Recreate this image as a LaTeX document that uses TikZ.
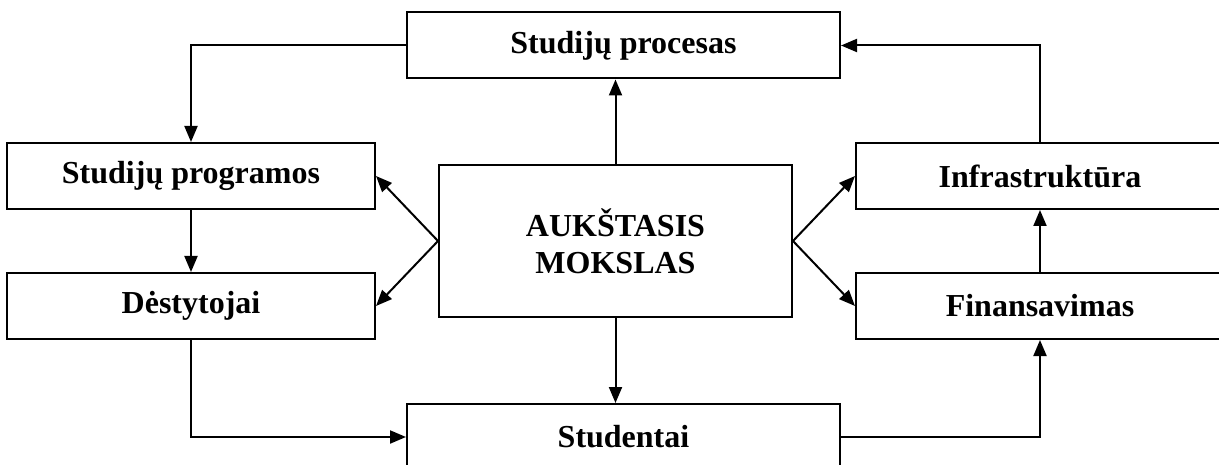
\documentclass[tikz,border=0pt]{standalone}
\usepackage{fontspec}
\setmainfont{Liberation Serif}
\usetikzlibrary{arrows.meta}

\begin{document}
\begin{tikzpicture}[x=1pt, y=-1pt, line width=2pt,
        box/.style={draw, font=\fontsize{32}{37}\selectfont\bfseries, align=center, minimum height=66pt, inner sep=0pt},
        wide/.style={box, minimum width=433pt},
        side/.style={box, minimum width=368pt},
        >={Triangle[length=16pt,width=13pt]}]
        \useasboundingbox (0,0) rectangle (1219,465);
        \node[wide] (proc) at (623.5,45.5) {Studijų procesas};
        \node[side] (prog) at (191,176) {Studijų programos};
        \node[side] (dest) at (191,306) {Dėstytojai};
        \node[box, minimum width=353pt, minimum height=152pt] (aukst) at (615.5,241) {AUKŠTASIS\\MOKSLAS};
        \node[side] (infra) at (1040,176) {Infrastruktūra};
        \node[side] (fin) at (1040,306) {Finansavimas};
        \node[wide] (stud) at (623.5,437) {Studentai};
        \path[->] (aukst.north) edge (aukst.north |- proc.south);
        \path[->] (aukst.south) edge (aukst.south |- stud.north);
        \path[->] (aukst.west) edge (prog.east);
        \path[->] (aukst.west) edge (dest.east);
        \path[->] (aukst.east) edge (infra.west);
        \path[->] (aukst.east) edge (fin.west);
        \path[->] (prog.south) edge (dest.north);
        \path[->] (fin.north) edge (infra.south);
        \draw[->] (proc.west) -| (prog.north);
        \draw[->] (dest.south) |- (stud.west);
        \draw[->] (stud.east) -| (fin.south);
        \draw[->] (infra.north) |- (proc.east);
\end{tikzpicture}
\end{document}
